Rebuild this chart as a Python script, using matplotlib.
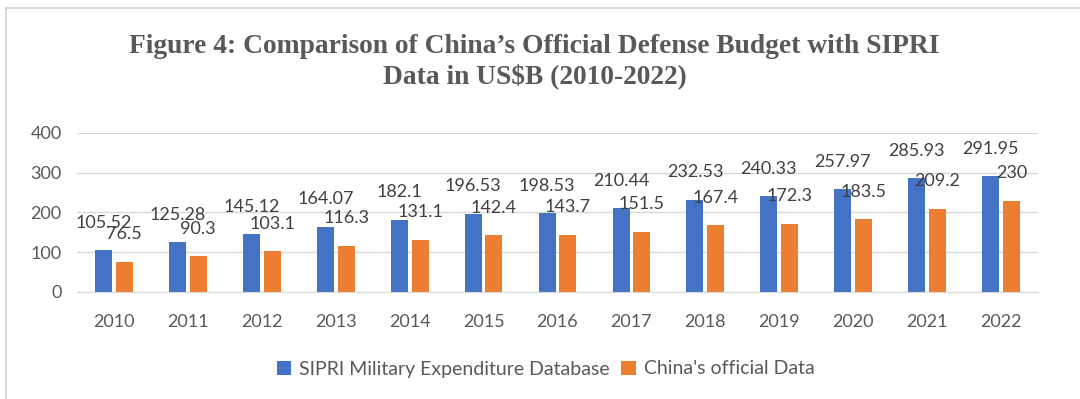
import matplotlib.pyplot as plt
import numpy as np
from matplotlib.patches import Rectangle

years = ["2010", "2011", "2012", "2013", "2014", "2015", "2016",
         "2017", "2018", "2019", "2020", "2021", "2022"]
sipri = [105.52, 125.28, 145.12, 164.07, 182.1, 196.53, 198.53,
         210.44, 232.53, 240.33, 257.97, 285.93, 291.95]
official = [76.5, 90.3, 103.1, 116.3, 131.1, 142.4, 143.7,
            151.5, 167.4, 172.3, 183.5, 209.2, 230]
labels_sipri = ["105.52", "125.28", "145.12", "164.07", "182.1", "196.53", "198.53",
                "210.44", "232.53", "240.33", "257.97", "285.93", "291.95"]
labels_official = ["76.5", "90.3", "103.1", "116.3", "131.1", "142.4", "143.7",
                   "151.5", "167.4", "172.3", "183.5", "209.2", "230"]

blue = "#4472C4"
orange = "#ED7D31"
grey = "#595959"

fig = plt.figure(figsize=(10.8, 3.99), dpi=100)
fig.patches.append(Rectangle((6 / 1080, -0.1), 1.2, (399 - 8) / 399 + 0.1,
                             transform=fig.transFigure, fill=False,
                             edgecolor="#D0D0D0", linewidth=1.2))

ax = fig.add_axes([77 / 1080, 1 - 292 / 399, (1038 - 77) / 1080, (292 - 133) / 399])

x = np.arange(len(years))
w = 0.23
b1 = ax.bar(x - 0.14, sipri, w, color=blue, label="SIPRI Military Expenditure Database")
b2 = ax.bar(x + 0.14, official, w, color=orange, label="China's official Data")

for rect, lab in zip(b1, labels_sipri):
    ax.annotate(lab, (rect.get_x() + rect.get_width() / 2, rect.get_height()),
                xytext=(0, 14), textcoords="offset points", ha="center", va="bottom",
                fontsize=13, color="#404040", family="Lato")
for rect, lab in zip(b2, labels_official):
    ax.annotate(lab, (rect.get_x() + rect.get_width() / 2, rect.get_height()),
                xytext=(0, 14), textcoords="offset points", ha="center", va="bottom",
                fontsize=13, color="#404040", family="Lato")

ax.set_ylim(0, 400)
ax.set_xlim(-0.5, len(years) - 0.5)
ax.set_yticks([0, 100, 200, 300, 400])
ax.set_xticks(x)
ax.set_xticklabels(years)
ax.grid(axis="y", color="#D9D9D9", linewidth=1)
ax.set_axisbelow(True)
for s in ["top", "right", "left"]:
    ax.spines[s].set_visible(False)
ax.spines["bottom"].set_color("#D9D9D9")
ax.tick_params(axis="both", length=0, colors=grey, labelsize=13)
ax.tick_params(axis="y", pad=11)
ax.tick_params(axis="x", pad=16)
for t in ax.get_xticklabels() + ax.get_yticklabels():
    t.set_family("Lato")

fig.text(0.495, 1 - 62 / 399, "Figure 4: Comparison of China\u2019s Official Defense Budget with SIPRI\nData in US$B (2010-2022)",
         ha="center", va="center", fontsize=19.8, fontweight="bold", color=grey,
         family="Liberation Serif", linespacing=1.22)

fig.legend(loc="center", bbox_to_anchor=(0.505, 1 - 369 / 399), ncol=2, frameon=False,
           prop={"family": "Lato", "size": 14}, labelcolor=grey,
           handlelength=0.75, handleheight=0.75, handletextpad=0.4, columnspacing=0.6)

fig.savefig("out.png", dpi=100)
